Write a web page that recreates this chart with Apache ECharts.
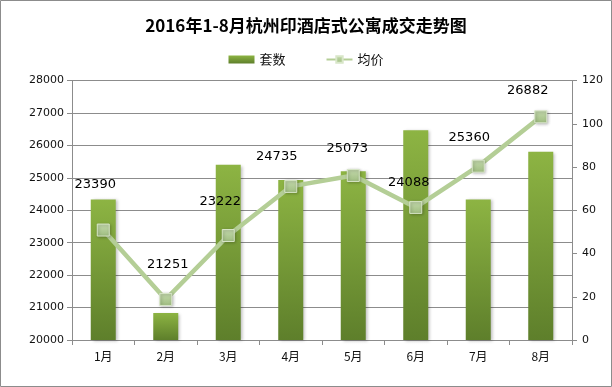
<!DOCTYPE html>
<html><head><meta charset="utf-8">
<script src="https://cdn.jsdelivr.net/npm/echarts@6/dist/echarts.min.js"></script>
<style>html,body{margin:0;padding:0;background:#fff}#c{width:612px;height:387px}</style>
</head><body><div id="c"></div>
<script>
const categories = ['1月','2月','3月','4月','5月','6月','7月','8月'];
const countValues = [65, 12.5, 81, 74, 78, 97, 65, 87];
const priceValues = [23390, 21251, 23222, 24735, 25073, 24088, 25360, 26882];
const leftTicks = {min: 20000, max: 28000, interval: 1000};
const rightTicks = {min: 0, max: 120, interval: 20};
// label nudges (style only)
const labelNudge = [[-8,-32],[2,-22],[-8,-21],[-14,-17],[-6,-14],[-7,-12],[-9,-16],[-13,-13]];

const chart = echarts.init(document.getElementById('c'), null, {renderer:'canvas'});
const gray = '#8c8c8c';
chart.setOption({
  animation:false,
  backgroundColor:'#fff',
  graphic:[{type:'rect',shape:{x:0.5,y:0.5,width:611,height:386},style:{fill:'none',stroke:'#8c8c8c',lineWidth:1}}],
  title:{text:'2016年1-8月杭州印酒店式公寓成交走势图',left:'center',top:12,
    textStyle:{fontSize:17,fontWeight:'bold',color:'#000',fontFamily:'Noto Sans CJK SC'}},
  legend:{top:48,left:'center',itemGap:40,itemWidth:26,itemHeight:8,
    textStyle:{fontSize:13,color:'#111',fontFamily:'Noto Sans CJK SC'},
    data:[{name:'套数',icon:'rect'},{name:'均价'}]},
  grid:{left:72,right:40,top:80.5,bottom:47},
  xAxis:{type:'category',data:categories,
    axisLine:{lineStyle:{color:gray}},
    axisTick:{show:true,length:5,alignWithLabel:false,lineStyle:{color:gray}},
    axisLabel:{color:'#111',fontSize:12,margin:10,fontFamily:'Noto Sans CJK SC'}},
  yAxis:[
    {type:'value',min:leftTicks.min,max:leftTicks.max,interval:leftTicks.interval,
     axisLine:{show:true,lineStyle:{color:gray}},
     axisTick:{show:true,length:5,lineStyle:{color:gray}},
     splitLine:{lineStyle:{color:gray,width:1}},
     axisLabel:{color:'#111',fontSize:11,margin:8,fontFamily:'DejaVu Sans',formatter:v=>String(v)}},
    {type:'value',min:rightTicks.min,max:rightTicks.max,interval:rightTicks.interval,position:'right',
     axisLine:{show:true,lineStyle:{color:gray}},
     axisTick:{show:true,length:5,lineStyle:{color:gray}},
     splitLine:{show:false},
     axisLabel:{color:'#111',fontSize:11,margin:10,fontFamily:'DejaVu Sans',formatter:v=>String(v)}}
  ],
  series:[
    {name:'套数',type:'bar',yAxisIndex:1,barWidth:'40%',data:countValues,
     itemStyle:{color:new echarts.graphic.LinearGradient(0,0,0,1,[{offset:0,color:'#8db443'},{offset:1,color:'#5e7f2b'}]),
       shadowBlur:3,shadowOffsetX:2,shadowOffsetY:1,shadowColor:'rgba(0,0,0,0.25)'}},
    {name:'均价',type:'line',yAxisIndex:0,symbol:'rect',symbolSize:12,
     data:priceValues.map((v,i)=>({value:v,label:{offset:labelNudge[i]}})),
     lineStyle:{color:'#b4ce96',width:4.5},
     itemStyle:{color:new echarts.graphic.LinearGradient(0,0,0,1,[{offset:0,color:'#c4d9ad'},{offset:1,color:'#9fbd80'}]),
       borderColor:'#d8e6c8',borderWidth:1,shadowBlur:3,shadowOffsetX:1,shadowOffsetY:1,shadowColor:'rgba(0,0,0,0.3)'},
     label:{show:true,position:'top',distance:0,color:'#000',fontSize:13,fontFamily:'DejaVu Sans'}}
  ]
});
</script></body></html>
